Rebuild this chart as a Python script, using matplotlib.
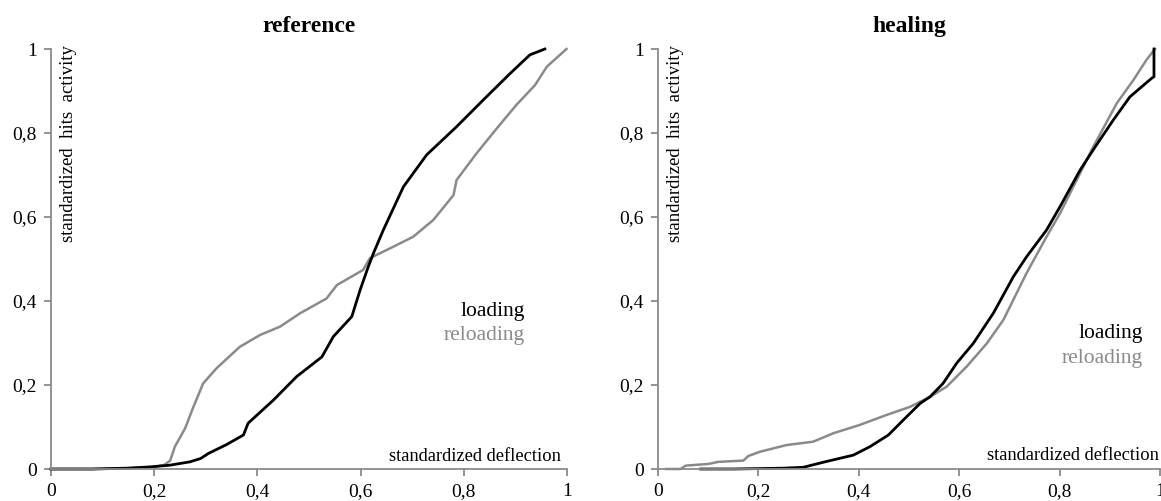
import matplotlib
matplotlib.use('Agg')
import matplotlib.pyplot as plt

# reference panel
ref_load_x = [0, 0.08, 0.15, 0.192, 0.23, 0.269, 0.29, 0.305, 0.34, 0.373, 0.382, 0.431, 0.476, 0.525,
              0.547, 0.583, 0.599, 0.615, 0.625, 0.644, 0.683, 0.728, 0.786, 0.838, 0.89, 0.928, 0.957]
ref_load_y = [0, 0, 0.002, 0.005, 0.009, 0.017, 0.025, 0.037, 0.058, 0.081, 0.109, 0.164, 0.22, 0.267,
              0.315, 0.363, 0.426, 0.482, 0.514, 0.569, 0.672, 0.748, 0.815, 0.879, 0.942, 0.986, 1.0]
ref_reload_x = [0, 0.08, 0.15, 0.2, 0.22, 0.231, 0.24, 0.26, 0.276, 0.295, 0.321, 0.366, 0.405, 0.444, 0.483,
                0.534, 0.554, 0.605, 0.618, 0.663, 0.702, 0.741, 0.78, 0.786, 0.825, 0.864, 0.902, 0.938, 0.961, 0.999]
ref_reload_y = [0, 0, 0.002, 0.005, 0.01, 0.02, 0.053, 0.097, 0.148, 0.204, 0.24, 0.291, 0.319, 0.339, 0.371,
                0.406, 0.438, 0.474, 0.502, 0.529, 0.553, 0.593, 0.652, 0.688, 0.752, 0.811, 0.867, 0.914, 0.958, 1.0]

# healing panel
heal_load_x = [0.085, 0.15, 0.203, 0.25, 0.289, 0.336, 0.389, 0.422, 0.459, 0.489, 0.522, 0.542, 0.568, 0.595,
               0.628, 0.668, 0.708, 0.734, 0.774, 0.801, 0.841, 0.867, 0.907, 0.94, 0.983, 0.988, 0.988]
heal_load_y = [0, 0, 0.001, 0.002, 0.004, 0.018, 0.033, 0.053, 0.081, 0.117, 0.156, 0.172, 0.204, 0.252,
               0.299, 0.371, 0.458, 0.505, 0.569, 0.625, 0.712, 0.76, 0.831, 0.886, 0.93, 0.934, 1.0]
heal_reload_x = [0.016, 0.045, 0.055, 0.1, 0.12, 0.17, 0.18, 0.203, 0.256, 0.309, 0.349, 0.402, 0.456, 0.502,
                 0.542, 0.575, 0.615, 0.655, 0.688, 0.698, 0.734, 0.774, 0.801, 0.834, 0.867, 0.914, 0.947, 0.973, 0.99]
heal_reload_y = [0, 0, 0.008, 0.012, 0.017, 0.02, 0.031, 0.041, 0.057, 0.065, 0.085, 0.105, 0.129, 0.148,
                 0.172, 0.196, 0.244, 0.299, 0.355, 0.379, 0.466, 0.553, 0.609, 0.688, 0.767, 0.871, 0.926, 0.974, 1.0]

ticks = [0, 0.2, 0.4, 0.6, 0.8, 1]
tick_labels = ['0', '0,2', '0,4', '0,6', '0,8', '1']

GRAY = '#8a8a8a'
plt.rcParams['font.family'] = ['Liberation Serif', 'DejaVu Serif']

fig = plt.figure(figsize=(11.61, 5.01), dpi=100)
ax1 = fig.add_axes([51 / 1161, 32 / 501, 516 / 1161, 420 / 501])
ax2 = fig.add_axes([658 / 1161, 32 / 501, 502 / 1161, 420 / 501])

panels = [
    (ax1, 'reference', ref_load_x, ref_load_y, ref_reload_x, ref_reload_y, (0.919, 0.375, 0.317), (0.988, 0.029)),
    (ax2, 'healing', heal_load_x, heal_load_y, heal_reload_x, heal_reload_y, (0.9655, 0.323, 0.263), (0.997, 0.033)),
]

for ax, title, lx, ly, rx, ry, lab, dfl in panels:
    ax.plot(rx, ry, color=GRAY, lw=1.8, clip_on=False, solid_joinstyle='round')
    ax.plot(lx, ly, color='black', lw=2.0, clip_on=False, solid_joinstyle='round')
    ax.set_xlim(0, 1)
    ax.set_ylim(0, 1)
    ax.set_xticks(ticks, tick_labels)
    ax.set_yticks(ticks, tick_labels)
    for s in ['top', 'right']:
        ax.spines[s].set_visible(False)
    for s in ['left', 'bottom']:
        ax.spines[s].set_color(GRAY)
        ax.spines[s].set_linewidth(1.3)
    ax.tick_params(direction='out', length=5, width=1.3, color=GRAY, labelsize=14, pad=5)
    ax.set_title(title, fontsize=17, fontweight='bold', pad=12)
    ax.text(lab[0], lab[1], 'loading', ha='right', va='center', fontsize=15.5, color='black')
    ax.text(lab[0], lab[2], 'reloading', ha='right', va='center', fontsize=15.5, color=GRAY)
    ax.text(dfl[0], dfl[1], 'standardized deflection', ha='right', va='center', fontsize=13.3)
    ax.text(0.034, 1.01, 'standardized  hits  activity', rotation=90, ha='center', va='top', fontsize=13.5)

fig.savefig('out.png', dpi=100)
